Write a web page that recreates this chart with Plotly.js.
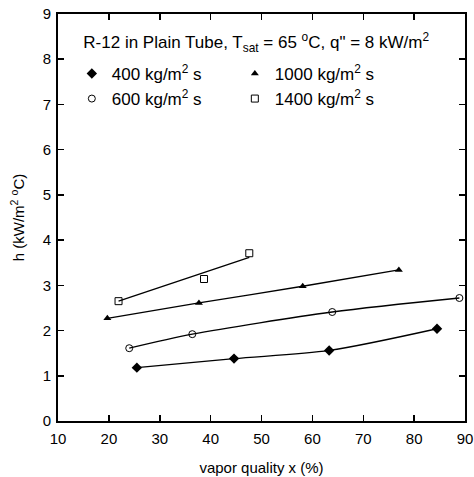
<!DOCTYPE html>
<html>
<head>
<meta charset="utf-8">
<script src="https://cdn.plot.ly/plotly-3.0.1.min.js"></script>
<style>html,body{margin:0;padding:0;background:#fff;}</style>
</head>
<body>
<div id="chart" style="width:474px;height:477px;"></div>
<script>
// G = 400 kg/m2 s (diamonds)
const x400 = [25.5, 44.6, 63.3, 84.5];
const h400 = [1.18, 1.38, 1.56, 2.04];
// G = 600 kg/m2 s (open circles)
const x600 = [24.0, 36.4, 63.9, 88.9];
const h600 = [1.61, 1.92, 2.41, 2.72];
// G = 1000 kg/m2 s (triangles)
const x1000 = [19.7, 37.7, 58.1, 77.0];
const h1000 = [2.27, 2.61, 2.98, 3.34];
// G = 1400 kg/m2 s (open squares)
const x1400 = [21.9, 38.7, 47.6];
const h1400 = [2.65, 3.14, 3.71];
// fitted line for 1400 series
const x1400fit = [21.9, 47.6];
const h1400fit = [2.65, 3.62];

const names = ['400 kg/m<sup>2</sup> s', '1000 kg/m<sup>2</sup> s', '600 kg/m<sup>2</sup> s', '1400 kg/m<sup>2</sup> s'];
const xTicks = [10, 20, 30, 40, 50, 60, 70, 80, 90];
const yTicks = [0, 1, 2, 3, 4, 5, 6, 7, 8, 9];

const FONT = 'Liberation Sans, Arial, sans-serif';
const lineStyle = {color: '#000', width: 1.3, shape: 'spline', smoothing: 0.8};
const traces = [
  {x: x400, y: h400, mode: 'lines', line: lineStyle, showlegend: false, hoverinfo: 'skip'},
  {x: x600, y: h600, mode: 'lines', line: lineStyle, showlegend: false, hoverinfo: 'skip'},
  {x: x1000, y: h1000, mode: 'lines', line: lineStyle, showlegend: false, hoverinfo: 'skip'},
  {x: x1400fit, y: h1400fit, mode: 'lines', line: {color: '#000', width: 1.3}, showlegend: false, hoverinfo: 'skip'},
  {x: x400, y: h400, mode: 'markers', name: names[0],
   marker: {symbol: 'diamond', size: 8, color: '#000'}},
  {x: x1000, y: h1000, mode: 'markers', name: names[1],
   marker: {symbol: 'triangle-up', size: 7, color: '#000'}},
  {x: x600, y: h600, mode: 'markers', name: names[2],
   marker: {symbol: 'circle-open', size: 7, color: '#000', line: {width: 1}}},
  {x: x1400, y: h1400, mode: 'markers', name: names[3],
   marker: {symbol: 'square-open', size: 7, color: '#000', line: {width: 1}}}
];

const axisFont = {family: FONT, size: 15, color: '#000'};
const layout = {
  width: 474, height: 477,
  margin: {l: 58, r: 9, t: 14, b: 56},
  paper_bgcolor: '#fff', plot_bgcolor: '#fff',
  font: axisFont,
  title: {
    text: 'R-12 in Plain Tube, T<sub>sat</sub> = 65 <sup>o</sup>C, q" = 8 kW/m<sup>2</sup>',
    x: 0.487, xref: 'paper', xanchor: 'center',
    y: 1 - 42 / 477, yref: 'container', yanchor: 'middle',
    font: {family: FONT, size: 17, color: '#000'}
  },
  xaxis: {
    range: [10, 90], tickvals: xTicks, ticktext: xTicks.map(String),
    ticks: 'inside', ticklen: 6, tickwidth: 1.5, tickcolor: '#000',
    showline: true, linecolor: '#000', linewidth: 2, mirror: 'ticks',
    showgrid: false, zeroline: false,
    tickfont: axisFont, ticklabelstandoff: 3,
    title: {text: 'vapor quality x (%)', font: {family: FONT, size: 15, color: '#000'}, standoff: 16}
  },
  yaxis: {
    range: [0, 9], tickvals: yTicks, ticktext: yTicks.map(String),
    ticks: 'inside', ticklen: 6, tickwidth: 1.5, tickcolor: '#000',
    showline: true, linecolor: '#000', linewidth: 2, mirror: 'ticks',
    showgrid: false, zeroline: false,
    tickfont: axisFont, ticklabelstandoff: 2,
    title: {text: 'h (kW/m<sup>2</sup> <sup>o</sup>C)', font: {family: FONT, size: 15, color: '#000'}, standoff: 14}
  },
  legend: {
    orientation: 'h', x: 0.034, xanchor: 'left', y: 0.897, yanchor: 'top',
    entrywidth: 118, entrywidthmode: 'pixels',
    bgcolor: 'rgba(0,0,0,0)', borderwidth: 0,
    font: {family: FONT, size: 17, color: '#000'},
    traceorder: 'normal'
  },
  showlegend: true
};

Plotly.newPlot('chart', traces, layout, {displayModeBar: false, staticPlot: true});
</script>
</body>
</html>
